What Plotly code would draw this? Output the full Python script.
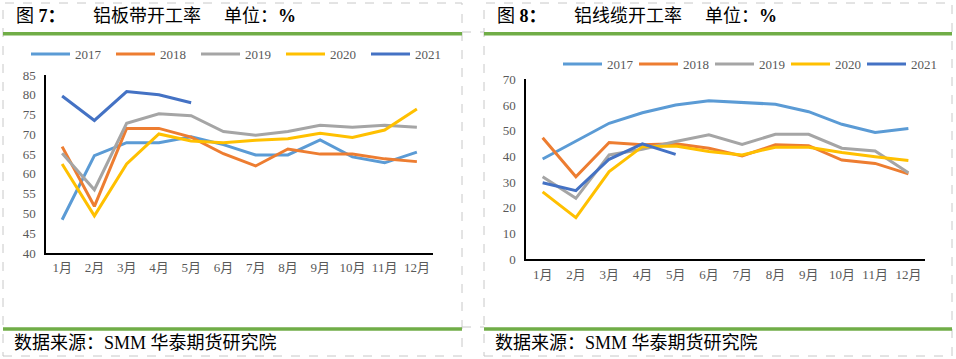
import plotly.graph_objects as go

W, H = 956, 359

months = ["1月", "2月", "3月", "4月", "5月", "6月", "7月", "8月", "9月", "10月", "11月", "12月"]
years = ["2017", "2018", "2019", "2020", "2021"]
colors = {"2017": "#5B9BD5", "2018": "#ED7D31", "2019": "#A5A5A5", "2020": "#FFC000", "2021": "#4472C4"}

# 图7 铝板带开工率 (%)
plate_2017 = [48.4, 64.6, 67.9, 67.9, 69.4, 67.4, 64.8, 64.8, 68.6, 64.3, 62.8, 65.5]
plate_2018 = [66.9, 51.8, 71.5, 71.5, 69.3, 65.1, 62.0, 66.3, 65.0, 65.0, 63.8, 63.1]
plate_2019 = [65.2, 56.0, 72.8, 75.2, 74.7, 70.7, 69.8, 70.7, 72.3, 71.8, 72.3, 71.8]
plate_2020 = [62.5, 49.4, 62.5, 70.1, 68.3, 67.9, 68.5, 68.9, 70.3, 69.2, 71.1, 76.4]
plate_2021 = [79.7, 73.5, 80.8, 80.0, 78.0]

# 图8 铝线缆开工率 (%)
cable_2017 = [39.0, 45.8, 52.9, 57.0, 60.0, 61.7, 60.9, 60.3, 57.4, 52.5, 49.3, 50.9]
cable_2018 = [47.3, 32.1, 45.4, 44.5, 44.9, 43.2, 40.2, 44.5, 44.2, 38.6, 37.3, 33.2]
cable_2019 = [32.1, 23.7, 40.6, 42.8, 45.8, 48.4, 44.7, 48.6, 48.6, 43.2, 42.1, 33.7]
cable_2020 = [26.2, 16.2, 34.1, 43.8, 44.1, 41.9, 40.6, 43.6, 43.6, 41.5, 39.9, 38.4]
cable_2021 = [29.8, 26.7, 38.9, 44.9, 40.8]

plate = dict(zip(years, [plate_2017, plate_2018, plate_2019, plate_2020, plate_2021]))
cable = dict(zip(years, [cable_2017, cable_2018, cable_2019, cable_2020, cable_2021]))

plate_ticks = [40, 45, 50, 55, 60, 65, 70, 75, 80, 85]
cable_ticks = [0, 10, 20, 30, 40, 50, 60, 70]

FONT = "Liberation Serif, Noto Sans CJK SC, serif"


def px(x):
    return x / W


def py(y):
    return 1 - y / H


fig = go.Figure()
for yr in years:
    fig.add_trace(go.Scatter(x=months[:len(plate[yr])], y=plate[yr], name=yr, mode="lines",
                             line=dict(color=colors[yr], width=3), xaxis="x", yaxis="y",
                             legend="legend"))
for yr in years:
    fig.add_trace(go.Scatter(x=months[:len(cable[yr])], y=cable[yr], name=yr, mode="lines",
                             line=dict(color=colors[yr], width=3), xaxis="x2", yaxis="y2",
                             legend="legend2"))

axis_common = dict(showline=True, linecolor="black", linewidth=1.5, showgrid=False, zeroline=False,
                   ticks="", tickfont=dict(family=FONT, size=13, color="#595959"))

fig.update_layout(
    width=W, height=H, margin=dict(l=0, r=0, t=0, b=0),
    paper_bgcolor="white", plot_bgcolor="white",
    xaxis=dict(domain=[px(46), px(433)], anchor="y", type="category", categoryarray=months,
               range=[-0.5, 11.5], ticklabelstandoff=2, tickangle=0, automargin=False, **axis_common),
    yaxis=dict(domain=[py(253), py(75)], anchor="x", range=[40, 85], tickvals=plate_ticks,
               ticklabelstandoff=6, automargin=False, **axis_common),
    xaxis2=dict(domain=[px(526), px(925)], anchor="y2", type="category", categoryarray=months,
                range=[-0.5, 11.5], ticklabelstandoff=2, tickangle=0, automargin=False, **axis_common),
    yaxis2=dict(domain=[py(259.3), py(79.3)], anchor="x2", range=[0, 70], tickvals=cable_ticks,
                ticklabelstandoff=6, automargin=False, **axis_common),
    legend=dict(orientation="h", x=px(26), y=py(54), xanchor="left", yanchor="middle",
                font=dict(family=FONT, size=13, color="#595959"), bgcolor="rgba(0,0,0,0)",
                itemwidth=39, entrywidth=31, entrywidthmode="pixels", traceorder="normal"),
    legend2=dict(orientation="h", x=px(558), y=py(64), xanchor="left", yanchor="middle",
                 font=dict(family=FONT, size=13, color="#595959"), bgcolor="rgba(0,0,0,0)",
                 itemwidth=39, entrywidth=22, entrywidthmode="pixels", traceorder="normal"),
)

shapes = []
dash = dict(color="#C8C8C8", width=1, dash="dash")
# cell borders
for x0, x1 in [(3, 462), (484, 952)]:
    shapes.append(dict(type="rect", xref="paper", yref="paper", x0=px(x0), x1=px(x1),
                       y0=py(356), y1=py(3), line=dash))
for yy in [32, 327]:
    shapes.append(dict(type="line", xref="paper", yref="paper", x0=px(462), x1=px(484),
                       y0=py(yy), y1=py(yy), line=dash))
# green rules
green = dict(color="#70AD47", width=3.5)
for x0, x1 in [(3, 462), (484, 952)]:
    for yy in [33.8, 329]:
        shapes.append(dict(type="line", xref="paper", yref="paper", x0=px(x0), x1=px(x1),
                           y0=py(yy), y1=py(yy), line=green))
fig.update_layout(shapes=shapes)

ann = []
tfont = dict(family=FONT, size=18, color="black")
for off, num, name in [(0, "7", "铝板带开工率"), (481, "8", "铝线缆开工率")]:
    ann.append(dict(text="图 <b>" + num + "：</b>", x=px(14 + off), y=py(16.5), xref="paper", yref="paper",
                    xanchor="left", yanchor="middle", showarrow=False, font=tfont))
    ann.append(dict(text=name, x=px(91 + off), y=py(16.5), xref="paper", yref="paper",
                    xanchor="left", yanchor="middle", showarrow=False, font=tfont))
    ann.append(dict(text="单位：<b>%</b>", x=px(222 + off), y=py(16.5), xref="paper", yref="paper",
                    xanchor="left", yanchor="middle", showarrow=False, font=tfont))
    ann.append(dict(text="数据来源：SMM 华泰期货研究院", x=px(12 + off), y=py(343), xref="paper", yref="paper",
                    xanchor="left", yanchor="middle", showarrow=False, font=tfont))
fig.update_layout(annotations=ann)

fig.write_html("out.html", config={"displayModeBar": False},
               post_script="document.body.style.margin='0';")
